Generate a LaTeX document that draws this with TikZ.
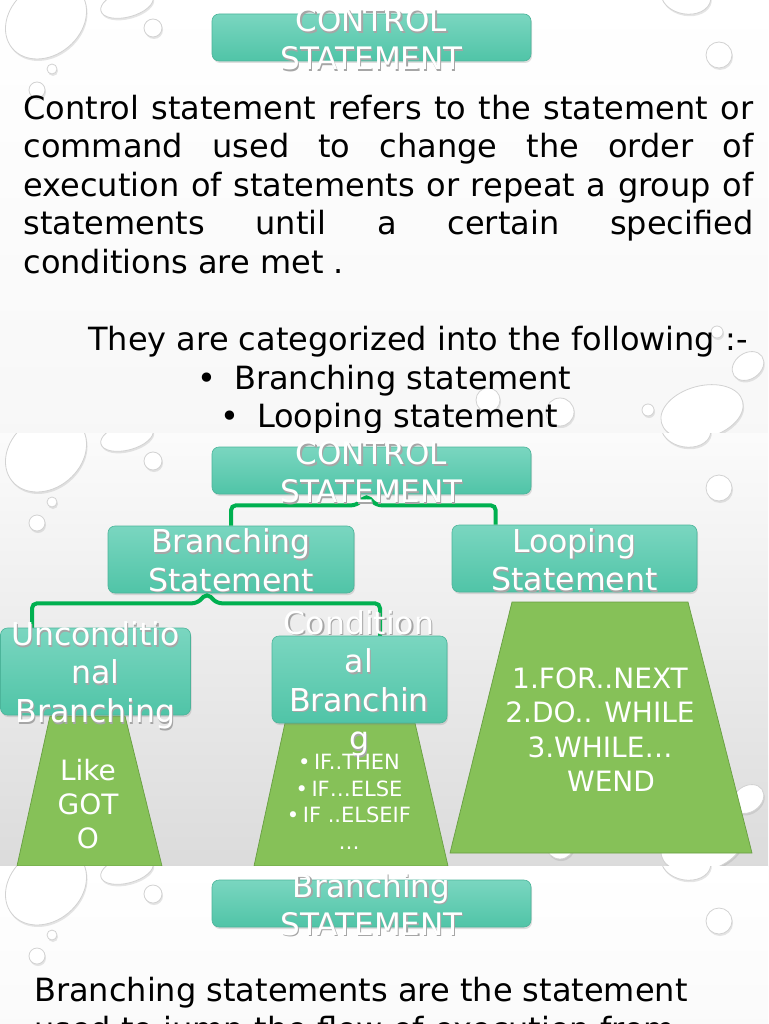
\documentclass[tikz,border=0pt]{standalone}
\usepackage{fontspec}
\setmainfont{DejaVu Sans}
\usetikzlibrary{calc, shadows, positioning}
\definecolor{tealtop}{RGB}{122,214,192}
\definecolor{tealbot}{RGB}{80,196,167}
\definecolor{tealedge}{RGB}{76,180,154}
\definecolor{linkgreen}{RGB}{0,176,80}
\definecolor{trapgreen}{RGB}{134,193,88}
\definecolor{trapedge}{RGB}{104,158,66}
\tikzset{
  tbox/.style={rectangle, draw=tealedge, line width=0.6pt, rounded corners=7pt,
               top color=tealtop, bottom color=tealbot,
               drop shadow={shadow xshift=1pt, shadow yshift=-2pt, opacity=0.25}},
  ttl/.style={tbox, minimum width=319pt, minimum height=47pt},
  ttext/.style={align=center, text=white, inner sep=0pt,
                font=\fontsize{31}{38}\selectfont},
  btext/.style={ttext, font=\fontsize{31.5}{38.5}\selectfont},
  body/.style={text=black, inner sep=0pt, font=\fontsize{32}{38.5}\selectfont},
  link/.style={draw=linkgreen, line width=4pt, rounded corners=5pt},
  trap/.style={fill=trapgreen, draw=trapedge, line width=0.7pt},
  drop/.style={fill=white, draw=gray!35, line width=0.8pt,
               drop shadow={shadow xshift=1pt, shadow yshift=-2pt, opacity=0.2}},
}
% white text with a soft grey shadow under it
\newcommand{\shd}[1]{\rlap{\kern1.2pt\raisebox{-1.8pt}{\textcolor{black!35}{#1}}}#1}
\newcommand{\drawdrops}{%
  \foreach \px/\py/\prx/\pry/\prot in {46/20/44/35/40, 127/4/27/13/15, 153/28/9/9/0,
      52/69/5/5/0, 37/90/8/8/0, 686/-4/25/18/-10, 719/55/13/13/0, 717/332/6/6/0,
      748/366/17/13/35, 702/412/42/26/15, 648/410/6/6/0, 560/412/14/14/0, 488/400/12/12/0}
    \draw[drop, rotate around={\prot:(\px,\py)}] (\px,\py) ellipse [x radius=\prx, y radius=\pry];
}

\begin{document}
\begin{tikzpicture}[
  x=1pt, y=-1pt,
  list/.style={align=center, text=white, inner sep=0pt},
]
  \useasboundingbox (0,0) rectangle (768,1024);

  % first slide
  \begin{scope}
    \clip (0,0) rectangle (768,432);
    \shade[top color=white, bottom color=gray!6] (0,0) rectangle (768,432);
    \drawdrops
  \end{scope}
  \node[ttl] (ttl1) at (371.5,37.5) {};
  \node[ttext] (ttl1txt) at ($(ttl1)+(0,2.5)$) {\shd{CONTROL}\\\shd{STATEMENT}};
  \node[body, text width=730pt, align=justify] (intro) at (388.5,184.5) {Control statement refers to the statement or\linebreak
    command used to change the order of\linebreak
    execution of statements or repeat a group of\linebreak
    statements until a certain specified\linebreak
    conditions are met .};
  \node[body, anchor=base] (cat) at (418,350) {They are categorized into the following :-};
  \node[body, anchor=base west] (bl1) at (197,389) {•\hspace{18pt}Branching statement};
  \node[body, anchor=base west] (bl2) at (220,427) {•\hspace{18pt}Looping statement};

  % second slide
  \begin{scope}
    \clip (0,433) rectangle (768,866);
    \shade[top color=gray!3, bottom color=gray!28] (0,433) rectangle (768,866);
    \begin{scope}[shift={(0,433)}]
      \drawdrops
    \end{scope}
  \end{scope}
  \node[ttl] (ttl2) at (371.5,470.5) {};
  \node[tbox, minimum width=246pt, minimum height=67pt] (br) at (231,559.5) {};
  \node[tbox, minimum width=245pt, minimum height=67pt] (lp) at (574.5,558.5) {};

  \draw[link] (br.north) |- ($(ttl2.south)+(-15,11)$) -- ($(ttl2.south)+(-5,1)$)
    -- ($(ttl2.south)+(5,11)$) -| ($(lp.north west)+(44,0)$);
  \draw[link] (32,628) |- ($(br.south)+(-34,10)$) -- ($(br.south)+(-24,0)$)
    -- ($(br.south)+(-14,10)$) -| (380,636);

  \draw[trap] (50,716) -- (125,716) -- (162,866) -- (17,866) -- cycle;
  \draw[trap] (285,723) -- (415,723) -- (448,866) -- (254,866) -- cycle;
  \draw[trap] (512,602) -- (688,602) -- (752,853) -- (450,853) -- cycle;

  \node[tbox, minimum width=190pt, minimum height=87pt] (unc) at (95.5,671.5) {};
  \node[tbox, minimum width=175pt, minimum height=87pt] (cnd) at (359.5,679.5) {};

  \node[ttext] (ttl2txt) at ($(ttl2)+(0,2.5)$) {\shd{CONTROL}\\\shd{STATEMENT}};
  \node[btext] (brtxt) at ($(br)+(0,1.5)$) {\shd{Branching}\\\shd{Statement}};
  \node[btext] (lptxt) at ($(lp)+(0,2)$) {\shd{Looping}\\\shd{Statement}};
  \node[btext] (unctxt) at (95.5,676) {\shd{Unconditio}\\\shd{nal}\\\shd{Branching}};
  \node[btext] (cndtxt) at (359,684) {\shd{Condition}\\\shd{al}\\\shd{Branchin}\\\shd{g}};

  \node[list, font=\fontsize{28}{34}\selectfont] (goto) at (88,804.5) {Like\\GOT\\O};
  \node[list, font=\fontsize{21}{26.5}\selectfont] (iflist) at (349,802)
    {•\,IF..THEN\\•\,IF…ELSE\\•\,IF ..ELSEIF\\…};
  \node[list, font=\fontsize{28}{34.5}\selectfont] (looplist) at (600,729.5)
    {1.FOR..NEXT\\2.DO.. WHILE\\3.WHILE…\\\hspace*{22pt}WEND};

  % third slide
  \begin{scope}
    \clip (0,866) rectangle (768,1024);
    \shade[top color=white, bottom color=gray!10] (0,866) rectangle (768,1299);
    \begin{scope}[shift={(0,866)}]
      \drawdrops
    \end{scope}
  \end{scope}
  \node[ttl] (ttl3) at (371.5,903.5) {};
  \node[ttext] (ttl3txt) at ($(ttl3)+(0,2)$) {\shd{Branching}\\\shd{STATEMENT}};
  \node[body, align=left, anchor=west] (brdef) at (34,1012)
    {Branching statements are the statement\\used to jump the flow of execution from};
\end{tikzpicture}
\end{document}
